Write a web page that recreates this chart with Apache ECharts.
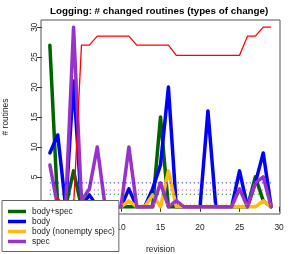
<!DOCTYPE html>
<html>
<head>
<meta charset="utf-8">
<script src="https://cdn.jsdelivr.net/npm/echarts@6/dist/echarts.min.js"></script>
<style>
html,body{margin:0;padding:0;background:#fff;}
#chart{width:294px;height:254px;}
</style>
</head>
<body>
<div id="chart"></div>
<script>
// ---- data ----
const revisions = [1,2,3,4,5,6,7,8,9,10,11,12,13,14,15,16,17,18,19,20,21,22,23,24,25,26,27,28,29];
const bodySpec         = [27,0,0,6,0,0,0,0,0,0,0,0,0,0,15,0,0,0,0,0,0,0,0,0,0,0,5,1,0];
const body             = [9,12,0,21,0,2,0,0,0,0,3,0,0,3,7,20,0,0,0,0,16,0,0,0,6,0,4,9,0];
const bodyNonemptySpec = [0,0,0,1,0,1,0,0,0,0,1,0,0,2,0,6,0,0,0,0,0,0,0,0,0,0,0,1,0];
const spec             = [7,0,0,30,1,3,10,0,0,0,10,0,0,0,4,0,1,0,0,0,0,0,0,0,3,0,4,5,0];
const totalLine        = [0,1.5,0,0,27,27,28.5,28.5,28.5,28.5,28.5,27,27,27,27,27,25.3,25.3,25.3,25.3,25.3,25.3,25.3,25.3,25.3,28.5,28.5,30,30];
const seriesNames = ['body+spec','body','body (nonempty spec)','spec'];
const meanLevels  = [2.1, 4.0, 0.45, 2.8];
const xTicks = [0,5,10,15,20,25,30];
const yTicks = [0,5,10,15,20,25,30];

// ---- styling ----
const colors = ['#006400','#0000FF','#FFB90F','#9932CC'];
const font = 'Liberation Sans, Arial, Helvetica, sans-serif';
const valueSets = [bodySpec, body, bodyNonemptySpec, spec];

const pairs = arr => revisions.map((r,i)=>[r, arr[i]]);

const series = [];
valueSets.forEach((vals, k) => {
  series.push({
    name: seriesNames[k], type: 'line', data: pairs(vals),
    symbol: 'none', silent: true, animation: false, z: 3 + k,
    lineStyle: {color: colors[k], width: 3.5, cap: 'round', join: 'round'},
    itemStyle: {color: colors[k]}
  });
});
meanLevels.forEach((m, k) => {
  series.push({
    type: 'line', data: [[revisions[0], m],[revisions[revisions.length-1], m]],
    symbol: 'none', silent: true, animation: false, z: 8,
    lineStyle: {color: colors[k], width: 1, type: [1,3]}
  });
});
series.push({
  type: 'line', data: pairs(totalLine), symbol: 'none', silent: true, animation: false, z: 9,
  lineStyle: {color: '#FF0000', width: 1.3}
});

const chart = echarts.init(document.getElementById('chart'), null, {renderer: 'canvas'});
chart.setOption({
  animation: false,
  backgroundColor: '#fff',
  title: {
    text: 'Logging: # changed routines (types of change)',
    left: 45, top: 1,
    textStyle: {fontFamily: font, fontSize: 9.8, fontWeight: 'bold', color: '#000'}
  },
  grid: {left: 41, right: 14, top: 20, bottom: 40, show: true, borderColor: '#555', borderWidth: 1,
         backgroundColor: 'transparent', containLabel: false, outerBoundsMode: 'none'},
  xAxis: {
    type: 'value', min: -0.12, max: 30.12,
    axisLine: {show: false}, splitLine: {show: false},
    axisTick: {show: true, length: 5, customValues: xTicks, lineStyle: {color: '#333'}},
    axisLabel: {customValues: xTicks, margin: 10, fontSize: 8.4, fontFamily: font, color: '#222'},
    name: 'revision', nameLocation: 'middle', nameGap: 32,
    nameTextStyle: {fontSize: 8.4, fontFamily: font, color: '#222'}
  },
  yAxis: {
    type: 'value', min: -1.2, max: 31.2,
    axisLine: {show: false}, splitLine: {show: false},
    axisTick: {show: true, length: 5, customValues: yTicks, lineStyle: {color: '#333'}},
    axisLabel: {customValues: yTicks, rotate: 90, margin: 2, fontSize: 8.4, fontFamily: font, color: '#222'},
    name: '# routines', nameLocation: 'middle', nameGap: 31, nameRotate: 90,
    nameTextStyle: {fontSize: 8.4, fontFamily: font, color: '#222'}
  },
  legend: {
    data: seriesNames.map((n,k)=>({name: n, icon: 'rect', itemStyle: {color: colors[k]}})),
    orient: 'vertical', left: 2, top: 200.5, z: 20,
    backgroundColor: '#fff', borderColor: '#666', borderWidth: 1,
    padding: [6, 4, 5, 6], itemWidth: 18, itemHeight: 3.5, itemGap: 0,
    selectedMode: false,
    textStyle: {fontSize: 8.4, fontFamily: font, color: '#222', lineHeight: 10, padding: [0,0,0,1]}
  },
  series: series
});
</script>
</body>
</html>
